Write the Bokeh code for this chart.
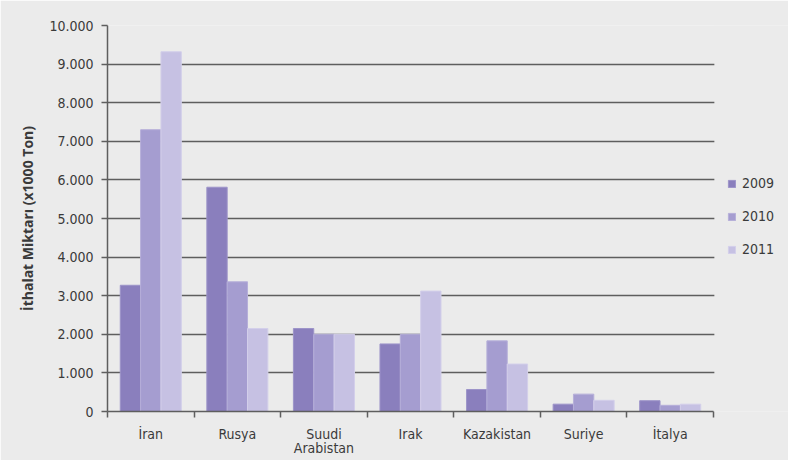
from bokeh.plotting import figure
from bokeh.models import Range1d, FixedTicker, Legend, LegendItem, ColumnDataSource, BoxAnnotation
from bokeh.embed import file_html
from bokeh.resources import INLINE
import numpy as np

categories = ["İran", "Rusya", "Suudi\nArabistan", "Irak", "Kazakistan", "Suriye", "İtalya"]
years = ["2009", "2010", "2011"]
v2009 = [3270, 5810, 2150, 1750, 570, 190, 280]
v2010 = [7300, 3360, 2000, 2000, 1830, 450, 160]
v2011 = [9320, 2150, 2000, 3120, 1230, 290, 190]
y_ticks = [0, 1000, 2000, 3000, 4000, 5000, 6000, 7000, 8000, 9000, 10000]
y_tick_labels = ["0", "1.000", "2.000", "3.000", "4.000", "5.000", "6.000", "7.000", "8.000", "9.000", "10.000"]

fills = ["#8a7fbd", "#a59dd0", "#c6c1e3"]
lines = ["#9d94c9", "#b6afd9", "#d3cfea"]
FONT = "DejaVu Sans Condensed"
BG = "#ebebeb"
TXT = "#3a3a3a"
GRID = "#5e5e5e"

W, H = 788, 460
left, top, bottom = 107, 25, 49
cat_px = 86.57
frame_w = W - left
x_end = frame_w / cat_px

p = figure(width=W, height=H, output_backend="svg", toolbar_location=None,
           x_range=Range1d(0, x_end), y_range=Range1d(0, 10000),
           min_border_left=left, min_border_right=0, min_border_top=top, min_border_bottom=bottom)
p.background_fill_color = BG
p.border_fill_color = BG
p.outline_line_color = None

n = len(categories)
centers = np.arange(n) + 0.5
bw = 0.235
offsets = [-bw, 0.0, bw]

# grid
p.xgrid.grid_line_color = None
p.ygrid.grid_line_color = GRID
p.ygrid.grid_line_width = 1.5
# hide grid beyond the last category (legend area)
p.add_layout(BoxAnnotation(left=n + 0.01, fill_color=BG, fill_alpha=1.0,
                           line_color=None, level="underlay"))

renderers = []
for vals, off, fc, lc in zip([v2009, v2010, v2011], offsets, fills, lines):
    src = ColumnDataSource(dict(x=centers + off, top=vals))
    r = p.vbar(x="x", top="top", width=bw, bottom=0, source=src,
               fill_color=fc, line_color=lc, line_width=1)
    renderers.append(r)

# y axis
p.yaxis.ticker = FixedTicker(ticks=y_ticks)
p.yaxis.major_label_overrides = {t: l for t, l in zip(y_ticks, y_tick_labels)}
p.yaxis.major_tick_out = 6
p.yaxis.major_tick_in = 0
p.yaxis.minor_tick_line_color = None
p.yaxis.axis_line_color = GRID
p.yaxis.axis_line_width = 1.5
p.yaxis.major_tick_line_color = GRID
p.yaxis.major_tick_line_width = 1.5
p.yaxis.major_label_text_font = FONT
p.yaxis.major_label_text_font_size = "14px"
p.yaxis.major_label_text_color = TXT
p.yaxis.major_label_standoff = 8
p.yaxis.axis_label = "İthalat Miktarı (x1000 Ton)"
p.yaxis.axis_label_text_font = "Open Sans"
p.yaxis.axis_label_text_font_style = "bold"
p.yaxis.axis_label_text_font_size = "14px"
p.yaxis.axis_label_text_color = TXT
p.yaxis.axis_label_standoff = 9

# x axis
p.xaxis.bounds = (0, n)
p.xaxis.ticker = FixedTicker(ticks=list(centers), minor_ticks=list(range(n + 1)))
p.xaxis.major_label_overrides = {float(c): s for c, s in zip(centers, categories)}
p.xaxis.major_tick_line_color = None
p.xaxis.major_tick_out = 6
p.xaxis.major_tick_in = 0
p.xaxis.minor_tick_out = 6
p.xaxis.minor_tick_in = 0
p.xaxis.minor_tick_line_color = GRID
p.xaxis.minor_tick_line_width = 1.5
p.xaxis.axis_line_color = GRID
p.xaxis.axis_line_width = 1.5
p.xaxis.major_label_text_font = FONT
p.xaxis.major_label_text_font_size = "14px"
p.xaxis.major_label_text_color = TXT
p.xaxis.major_label_standoff = 8
p.xaxis.major_label_text_line_height = 0.9

legend = Legend(items=[LegendItem(label=y, renderers=[r]) for y, r in zip(years, renderers)],
                location=(620, 152), orientation="vertical")
legend.margin = 0
legend.padding = 0
legend.glyph_width = 9
legend.glyph_height = 9
legend.label_standoff = 6
legend.label_height = 20
legend.spacing = 13
legend.label_text_font = FONT
legend.label_text_font_size = "14px"
legend.label_text_color = TXT
legend.background_fill_alpha = 0
legend.border_line_color = None
p.add_layout(legend, "center")

open("out.html", "w").write(file_html(p, INLINE))
